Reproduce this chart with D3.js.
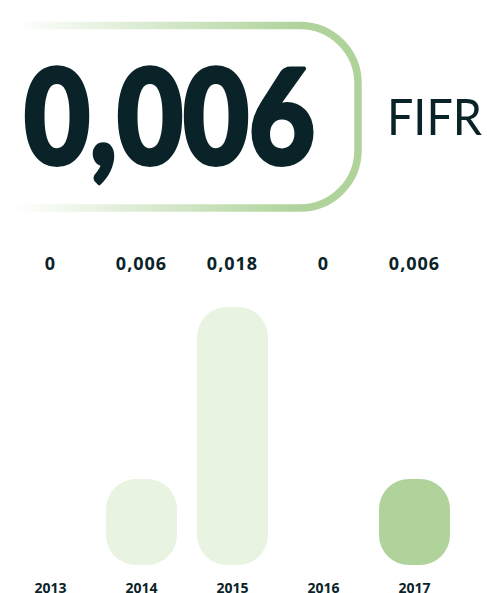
<!DOCTYPE html>
<html><head><meta charset="utf-8">
<script src="https://cdn.jsdelivr.net/npm/d3@7"></script>
<style>html,body{margin:0;padding:0;background:#fff;}svg{display:block;}</style>
</head><body>
<script>
const years = ["2013","2014","2015","2016","2017"];
const values = [0, 0.006, 0.018, 0, 0.006];
const valueLabels = ["0","0,006","0,018","0","0,006"];
const highlightYear = "2017";
const headlineValue = "0,006";
const headlineUnit = "FIFR";

const W = 487, H = 593;
const dark = "#0a2328";
const light = "#e8f4e1";
const green = "#afd39b";

const svg = d3.select("body").append("svg").attr("width", W).attr("height", H);

const defs = svg.append("defs");
const grad = defs.append("linearGradient").attr("id","fg")
  .attr("gradientUnits","userSpaceOnUse").attr("x1",14).attr("x2",300).attr("y1",0).attr("y2",0);
grad.append("stop").attr("offset",0).attr("stop-color",green).attr("stop-opacity",0);
grad.append("stop").attr("offset",1).attr("stop-color",green).attr("stop-opacity",1);

const fx0 = 14, fy0 = 25.5, fx1 = 358, fy1 = 208, r = 58;
const p = d3.path();
p.moveTo(fx0, fy0);
p.lineTo(fx1 - r, fy0);
p.arcTo(fx1, fy0, fx1, fy0 + r, r);
p.lineTo(fx1, fy1 - r);
p.arcTo(fx1, fy1, fx1 - r, fy1, r);
p.lineTo(fx0, fy1);
svg.append("path").attr("d", p.toString()).attr("fill","none")
  .attr("stroke","url(#fg)").attr("stroke-width",7.5);

svg.append("text").text(headlineValue)
  .attr("x", 24).attr("y", 164)
  .attr("textLength", 291).attr("lengthAdjust","spacingAndGlyphs")
  .attr("font-family","Lato").attr("font-weight",900).attr("font-size",131)
  .attr("fill", dark).attr("stroke", dark).attr("stroke-width", 4)
  .attr("stroke-linejoin","round");

svg.append("text").text(headlineUnit)
  .attr("x", 387).attr("y", 135)
  .attr("textLength", 95).attr("lengthAdjust","spacingAndGlyphs")
  .attr("font-family","Lato").attr("font-weight",400).attr("font-size",51)
  .attr("fill", dark);

const x = d3.scaleBand().domain(years).range([5, 460])
  .paddingInner(20/91).paddingOuter(10/91);
const y = d3.scaleLinear().domain([0, 0.018]).range([565, 307]);

const data = years.map((yr, i) => ({year: yr, value: values[i], label: valueLabels[i]}));

svg.append("g").selectAll("rect").data(data.filter(d => d.value > 0)).join("rect")
  .attr("x", d => x(d.year)).attr("width", x.bandwidth())
  .attr("y", d => y(d.value)).attr("height", d => y(0) - y(d.value))
  .attr("rx", 30).attr("ry", 30)
  .attr("fill", d => d.year === highlightYear ? green : light);

svg.append("g").selectAll("text").data(data).join("text")
  .text(d => d.label)
  .attr("x", d => x(d.year) + x.bandwidth()/2).attr("y", 270)
  .attr("text-anchor","middle")
  .attr("font-family","Open Sans").attr("font-weight",700).attr("font-size",18)
  .attr("letter-spacing", 1)
  .attr("fill", dark);

const xAxis = svg.append("g").attr("transform", "translate(0,580)")
  .call(d3.axisBottom(x).tickSize(0).tickPadding(0));
xAxis.select(".domain").remove();
xAxis.selectAll("text")
  .attr("dy", null).attr("y", 12.5)
  .attr("font-family","Open Sans").attr("font-weight",700).attr("font-size",14)
  .attr("fill", dark);
</script>
</body></html>
